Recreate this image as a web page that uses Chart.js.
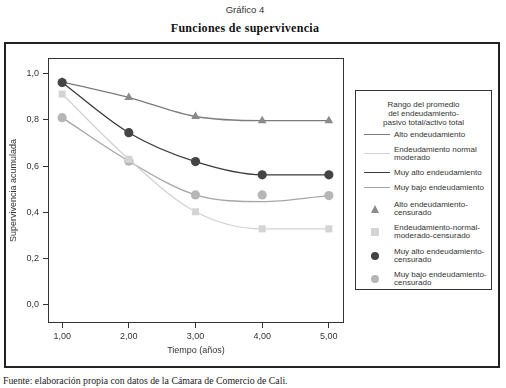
<!DOCTYPE html>
<html lang="es">
<head>
    <meta charset="UTF-8">
    <title>Funciones de supervivencia</title>
    <script src="https://cdn.jsdelivr.net/npm/chart.js"></script>
    <style>
        body { margin: 0; width: 506px; height: 388px; background: #fff; position: relative; overflow: hidden; font-family: "Liberation Sans", Arial, sans-serif; color: #333; }
        .sup { position: absolute; left: 0; width: 490px; text-align: center; }
        .sup1 { top: 4px; font-size: 9.5px; }
        .sup2 { top: 21px; font-family: "Liberation Serif", "Times New Roman", serif; font-weight: bold; font-size: 12px; color: #111; letter-spacing: 0.3px; }
        .frame { position: absolute; left: 4px; top: 42px; width: 496px; height: 326px; box-sizing: border-box; border: 2px solid #222; }
        .chart-box { position: absolute; left: 5px; top: 44px; width: 344px; height: 322px; }
        .legend { position: absolute; left: 355px; top: 90px; width: 137px; height: 200px; box-sizing: border-box; border: 1px solid #333; font-size: 8px; color: #333; }
        .legend-title { text-align: center; line-height: 9px; margin-top: 9px; margin-bottom: 0; }
        .legend-row { display: flex; align-items: center; padding: 3.75px 0; }
        .legend-row.line-row { padding: 3.5px 0; }
        .legend-row.first-mark { margin-top: 2px; }
        .legend-key { width: 38px; flex: none; display: flex; justify-content: center; align-items: center; }
        .legend-text { white-space: pre-line; line-height: 8px; }
        .footer { position: absolute; left: 3px; top: 375px; font-family: "Liberation Serif", "Times New Roman", serif; font-size: 9.8px; color: #222; }
    </style>
</head>
<body>
    <div class="sup sup1">Gráfico 4</div>
    <div class="sup sup2">Funciones de supervivencia</div>
    <div class="frame"></div>
    <div class="chart-box"><canvas id="chart"></canvas></div>
    <div class="legend" id="legend">
        <div class="legend-title">Rango del promedio<br>del endeudamiento-<br>pasivo total/activo total</div>
    </div>
    <div class="footer">Fuente: elaboración propia con datos de la Cámara de Comercio de Cali.</div>

    <script>
        // tiempo (años) y supervivencia acumulada
        const tiempo = [1, 2, 3, 4, 5];
        const xTicks = [1, 2, 3, 4, 5];
        const yTicks = [0, 0.2, 0.4, 0.6, 0.8, 1.0];

        // curvas ajustadas
        const altoCurva = [0.965, 0.897, 0.815, 0.797, 0.797];
        const normalCurva = [0.912, 0.63, 0.403, 0.329, 0.329];
        const muyAltoCurva = [0.962, 0.745, 0.62, 0.563, 0.563];
        const muyBajoCurva = [0.81, 0.622, 0.476, 0.447, 0.473];

        // puntos censurados
        const altoCens = [0.965, 0.897, 0.815, 0.797, 0.797];
        const normalCens = [0.912, 0.63, 0.403, 0.329, 0.329];
        const muyAltoCens = [0.962, 0.745, 0.62, 0.563, 0.563];
        const muyBajoCens = [0.81, 0.622, 0.476, 0.476, 0.473];

        const lineLabels = ['Alto endeudamiento', 'Endeudamiento normal\nmoderado', 'Muy alto endeudamiento', 'Muy bajo endeudamiento'];
        const censLabels = ['Alto endeudamiento-\ncensurado', 'Endeudamiento-normal-\nmoderado-censurado', 'Muy alto endeudamiento-\ncensurado', 'Muy bajo endeudamiento-\ncensurado'];

        const pts = (ys) => tiempo.map((x, i) => ({ x: x, y: ys[i] }));
        const comma = (v, d) => v.toFixed(d).replace('.', ',');

        function curve(label, ys, color, order) {
            return { label, data: pts(ys), showLine: true, borderColor: color, borderWidth: 1.3,
                     pointRadius: 0, cubicInterpolationMode: 'monotone', order, isLine: true };
        }
        function marks(label, ys, color, style, radius, order) {
            return { label, data: pts(ys), showLine: false, backgroundColor: color, borderColor: color,
                     borderWidth: 0, pointStyle: style, pointRadius: radius, order };
        }

        const datasets = [
            curve(lineLabels[0], altoCurva, '#7c7c7c', 10),
            curve(lineLabels[1], normalCurva, '#d2d2d2', 11),
            curve(lineLabels[2], muyAltoCurva, '#3a3a3a', 9),
            curve(lineLabels[3], muyBajoCurva, '#a6a6a6', 12),
            marks(censLabels[0], altoCens, '#8a8a8a', 'triangle', 5, 4),
            marks(censLabels[1], normalCens, '#d4d4d4', 'rect', 5, 2),
            marks(censLabels[2], muyAltoCens, '#444444', 'circle', 4.6, 1),
            marks(censLabels[3], muyBajoCens, '#b6b6b6', 'circle', 4.6, 3)
        ];

        const plotBox = {
            id: 'plotBox',
            afterDraw(chart) {
                const a = chart.chartArea, ctx = chart.ctx;
                ctx.save();
                ctx.strokeStyle = '#333';
                ctx.lineWidth = 1;
                ctx.strokeRect(a.left + 0.5, a.top + 0.5, a.right - a.left - 1, a.bottom - a.top - 1);
                ctx.restore();
            }
        };

        const tickFont = { family: 'Liberation Sans, Arial, sans-serif', size: 9 };

        const chart = new Chart(document.getElementById('chart'), {
            type: 'scatter',
            data: { datasets },
            options: {
                responsive: true,
                maintainAspectRatio: false,
                animation: false,
                layout: { padding: { top: 14, right: 2, left: 0, bottom: 0 } },
                plugins: { legend: { display: false }, tooltip: { enabled: false } },
                scales: {
                    x: {
                        type: 'linear', min: 0.788, max: 5.227,
                        afterBuildTicks: (s) => { s.ticks = xTicks.map(v => ({ value: v })); },
                        afterFit: (s) => { s.height = 43; },
                        ticks: { color: '#333', font: tickFont, padding: 3, callback: (v) => comma(v, 2), maxRotation: 0 },
                        grid: { drawOnChartArea: false, tickLength: 5, color: '#333' },
                        border: { display: false },
                        title: { display: true, text: 'Tiempo (años)', color: '#333', font: tickFont, padding: { top: 0, bottom: 10 } }
                    },
                    y: {
                        min: -0.078, max: 1.068,
                        afterBuildTicks: (s) => { s.ticks = yTicks.map(v => ({ value: v })); },
                        afterFit: (s) => { s.width = 43; },
                        ticks: { color: '#333', font: tickFont, padding: 4, callback: (v) => comma(v, 1) },
                        grid: { drawOnChartArea: false, tickLength: 5, color: '#333' },
                        border: { display: false },
                        title: { display: true, text: 'Supervivencia acumulada', color: '#333', font: tickFont, padding: { top: 3, bottom: 0 } }
                    }
                }
            },
            plugins: [plotBox]
        });

        // leyenda en HTML a partir de los datasets
        const legend = document.getElementById('legend');
        let firstMark = true;
        chart.data.datasets.forEach((ds) => {
            const row = document.createElement('div');
            row.className = 'legend-row' + (ds.isLine ? ' line-row' : '');
            if (!ds.isLine && firstMark) { row.className += ' first-mark'; firstMark = false; }
            const key = document.createElement('div');
            key.className = 'legend-key';
            const sym = document.createElement('div');
            if (ds.isLine) {
                sym.style.cssText = 'width:26px;height:0;border-top:1.3px solid ' + ds.borderColor + ';margin-left:4px';
            } else if (ds.pointStyle === 'triangle') {
                sym.style.cssText = 'width:0;height:0;border-left:4.5px solid transparent;border-right:4.5px solid transparent;border-bottom:8px solid ' + ds.backgroundColor;
            } else if (ds.pointStyle === 'rect') {
                sym.style.cssText = 'width:8px;height:8px;background:' + ds.backgroundColor;
            } else {
                sym.style.cssText = 'width:8px;height:8px;border-radius:50%;background:' + ds.backgroundColor;
            }
            key.appendChild(sym);
            const txt = document.createElement('div');
            txt.className = 'legend-text';
            txt.textContent = ds.label;
            row.appendChild(key);
            row.appendChild(txt);
            legend.appendChild(row);
        });
    </script>
</body>
</html>
